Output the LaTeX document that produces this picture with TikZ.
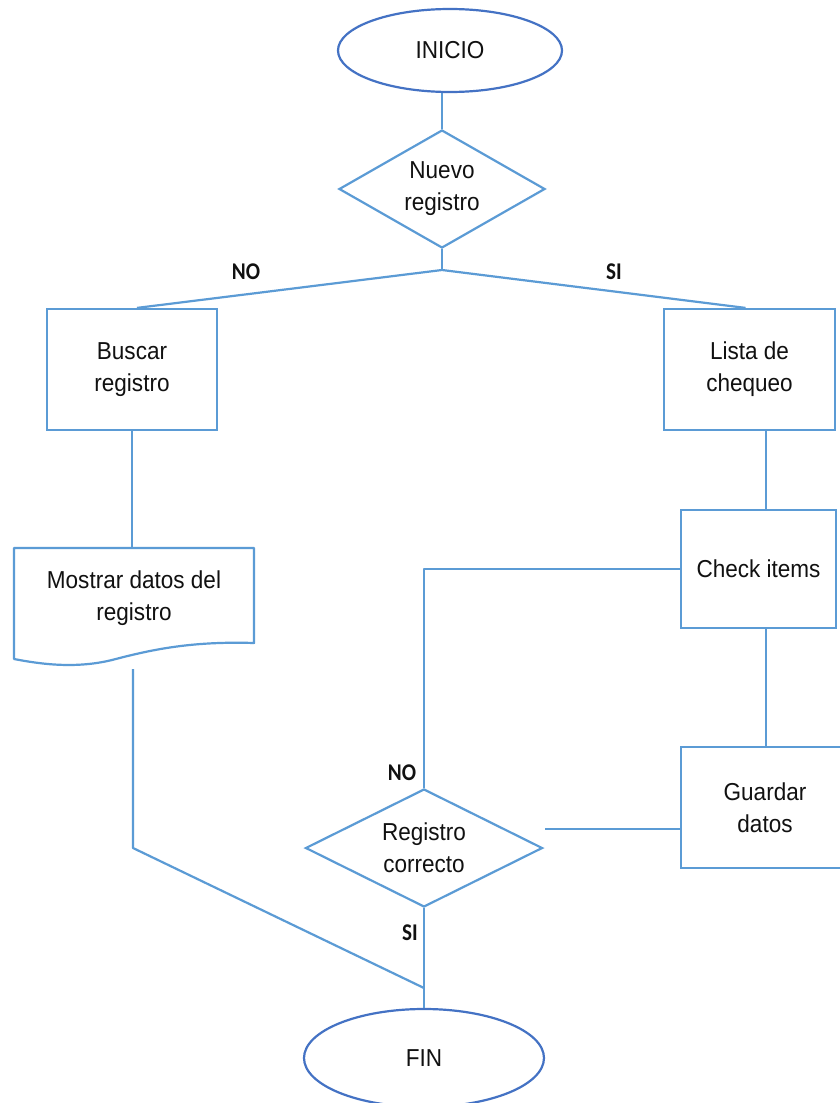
\documentclass[tikz,border=0pt]{standalone}
\usepackage{fontspec}
\setmainfont[FakeStretch=0.92]{Liberation Sans}
\newfontfamily\labelfont[FakeStretch=0.88]{Carlito}
\usetikzlibrary{shapes.geometric}
\definecolor{flowline}{HTML}{5B9BD5}
\definecolor{termline}{HTML}{4472C4}
\definecolor{ink}{HTML}{111111}

\begin{document}
\begin{tikzpicture}[x=1pt,y=-1pt,
  base/.style={text=ink, font=\fontsize{24.5}{32}\selectfont, align=center, inner sep=0pt, line width=2.2pt},
  terminal/.style={base, ellipse, draw=termline},
  decision/.style={base, diamond, draw=flowline},
  process/.style={base, rectangle, draw=flowline},
  conn/.style={draw=flowline, line width=2.2pt, line join=round},
  branch/.style={text=ink, font=\labelfont\bfseries\fontsize{24}{26}\selectfont, inner sep=0pt}]
\useasboundingbox (0,0) rectangle (840,1103);
\clip (0,0) rectangle (840,1103);
\fill[white] (0,0) rectangle (840,1103);

% flow nodes
\node[terminal, minimum width=224, minimum height=83] (inicio) at (450,50.5) {INICIO};
\node[decision, minimum width=206, minimum height=118, aspect=1.75] (nuevo) at (442,189) {Nuevo\\registro};
\coordinate (split) at (442,270);
\node[process, minimum width=170, minimum height=121] (buscar) at (132,369.5) {Buscar\\registro};
\node[process, minimum width=171, minimum height=121] (lista) at (749.5,369.5) {Lista de\\chequeo};
\node[base] (mostrar) at (134,598) {Mostrar datos del\\registro};
\node[process, minimum width=155, minimum height=118] (check) at (758.5,569) {Check items};
\node[process, minimum width=168, minimum height=121] (guardar) at (765,807.5) {Guardar\\datos};
\node[decision, minimum width=237, minimum height=118, aspect=2] (registro) at (424,848) {Registro\\correcto};
\node[terminal, minimum width=240, minimum height=98] (fin) at (424,1058) {FIN};

% document symbol around the "Mostrar datos" text
\draw[conn] (14,659) -- (14,548) -- (254,548) -- (254,643)
  .. controls (190,641) and (150,650) .. (112,660)
  .. controls (75,669) and (40,664) .. (14,659) -- cycle;
\coordinate (mostrarTop) at (133,548);
\coordinate (mostrarOut) at (133,669);
\coordinate (bend) at (133,848);
\coordinate (merge) at (424,988);
\coordinate (saveEnd) at (545,829);

% connectors
\draw[conn] (inicio.south -| nuevo.north) -- (nuevo.north);
\draw[conn] (nuevo.south) -- (split);
\draw[conn] ([xshift=5pt]buscar.north) -- (split) -- ([xshift=-4pt]lista.north);
\draw[conn] (buscar.south) -- (buscar.south |- mostrarTop);
\draw[conn] (mostrarOut) -- (bend) -- (merge);
\draw[conn] (registro.south) -- (fin.north);
\draw[conn] ([xshift=7.5pt]check.north) -- ([xshift=7.5pt]check.north |- lista.south);
\draw[conn] ([xshift=1pt]guardar.north) -- ([xshift=1pt]guardar.north |- check.south);
\draw[conn] (check.west) -| (registro.north);
\draw[conn] ([yshift=-21.5pt]guardar.west) -- (saveEnd);

% branch labels
\node[branch] (noTop) at (246,272) {NO};
\node[branch] (siTop) at (614,272) {SI};
\node[branch] (noLow) at (402,773) {NO};
\node[branch] (siLow) at (410,933) {SI};
\end{tikzpicture}
\end{document}
